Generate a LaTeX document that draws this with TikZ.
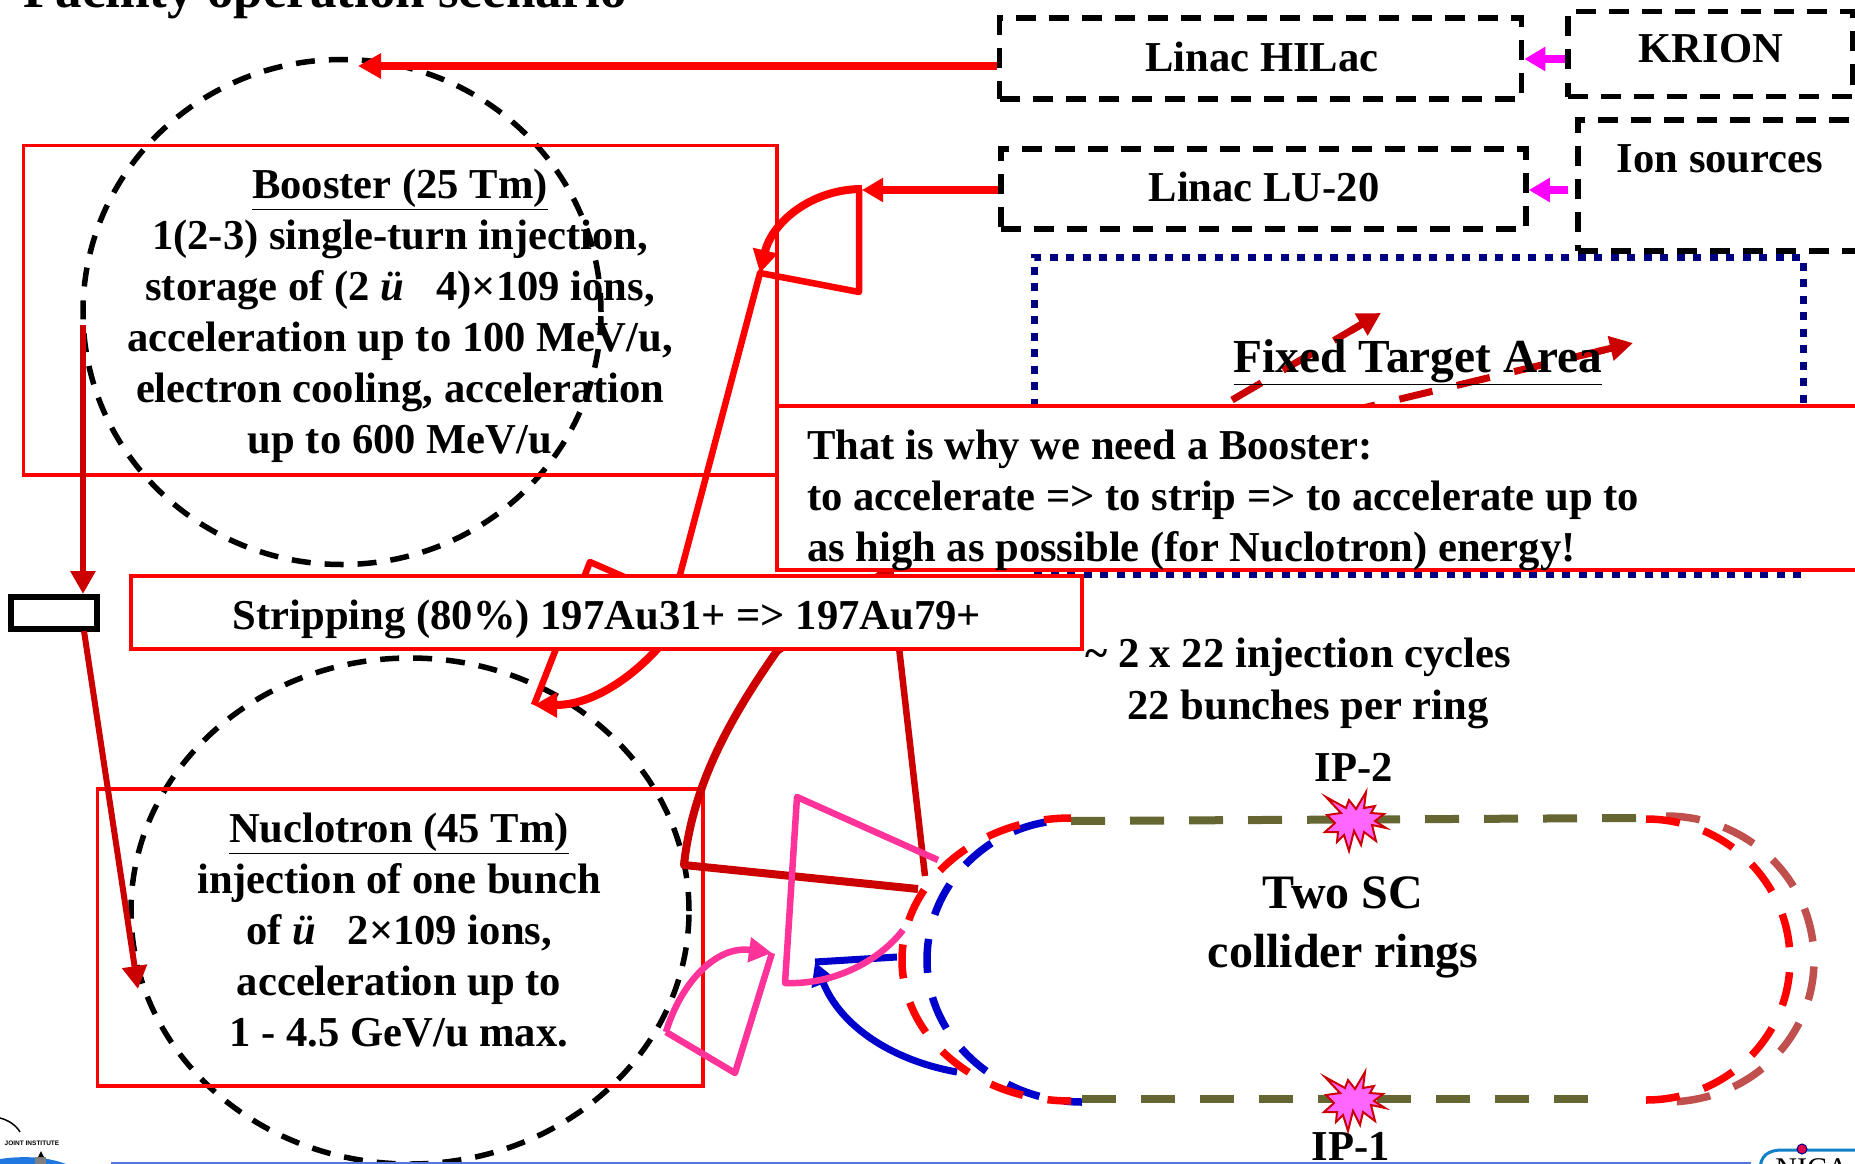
\documentclass[tikz,border=0pt]{standalone}
\usepackage{fontspec}
\setmainfont{Liberation Serif}
\newfontfamily\logofont{Liberation Sans}
\usetikzlibrary{arrows.meta,shapes.geometric,calc}
\definecolor{darkred}{HTML}{CC0000}
\definecolor{pinkc}{HTML}{FF3399}
\definecolor{bluec}{HTML}{0000CC}
\definecolor{olivec}{HTML}{666633}
\definecolor{brownc}{HTML}{C0504D}
\definecolor{navyc}{HTML}{000080}
\definecolor{magentac}{HTML}{FF00FF}
\definecolor{burstfill}{HTML}{FF66FF}
\definecolor{footline}{HTML}{5577DD}
\definecolor{domeblue}{HTML}{1E78E0}
\definecolor{nicablue}{HTML}{1080C8}
\definecolor{nicadot}{HTML}{E0004D}
\tikzset{
  x=1pt,y=-1pt,
  txt/.style={inner sep=0pt,align=center,font=\fontsize{42.6}{51}\selectfont\bfseries},
  redbox/.style={draw=red,line width=3.5pt,inner sep=0pt},
  dashbox/.style={draw=black,line width=5.5pt,dash pattern=on 20pt off 13pt,inner sep=0pt},
  ring/.style={draw=black,ellipse,line width=5.5pt,dash pattern=on 19pt off 14pt,inner sep=0pt},
  dots/.style={draw=navyc,line width=7pt,dash pattern=on 8pt off 8.5pt,inner sep=0pt},
  thickred/.style={draw=red,line width=8pt,line join=round},
  medred/.style={draw=red,line width=6.5pt,line join=round},
  dredline/.style={draw=darkred,line width=6pt,line join=round},
  pinkline/.style={draw=pinkc,line width=6.5pt,line join=round},
  blueline/.style={draw=bluec,line width=7pt,line join=round},
  track/.style={line width=7.5pt,dash pattern=on 34pt off 25pt},
  olivetrack/.style={draw=olivec,line width=8pt,dash pattern=on 34pt off 25pt},
  burst/.style={draw=darkred,fill=burstfill,line width=2pt,line join=miter},
  bighead/.style={-{Triangle[length=23pt,width=24pt]}},
  midhead/.style={-{Triangle[length=21pt,width=23pt]}},
}
\newcommand{\burstpath}{(-28,-23)--(-8,-12)--(-5,-20)--(2,-11)--(12,-28)--(10,-12)--(21,-14)--(17,-7)--(30,-6)--(21,1)--(32,8)--(18,5)--(22,21)--(10,12)--(7,25)--(0,11)--(-5,31)--(-10,15)--(-17,22)--(-16,12)--(-29,12)--(-19,3)--(-27,-5)--(-13,-7)--cycle}
\begin{document}
\begin{tikzpicture}
\clip (0,0) rectangle (1855,1164);
\fill[white] (0,0) rectangle (1855,1164);

% title, cut by the top edge
\node[txt,anchor=base west,font=\fontsize{53}{56}\selectfont\bfseries] (title) at (23,8) {Facility operation scenario};

% fixed target area (behind the note box)
\node[dots,minimum width=769pt,minimum height=317pt] (fixed) at (1418.5,415.5) {};
\coordinate (ft1s) at (1232,400);
\coordinate (ft1e) at (1381,313);
\coordinate (ft2s) at (1342,413);
\coordinate (ft2e) at (1633,343);
\draw[darkred,line width=7pt,dash pattern=on 34pt off 25pt] (ft1s) -- ($(ft1s)!0.88!(ft1e)$);
\draw[darkred,line width=7pt,bighead] ($(ft1s)!0.80!(ft1e)$) -- (ft1e);
\draw[darkred,line width=7pt,dash pattern=on 34pt off 25pt] (ft2s) -- ($(ft2s)!0.90!(ft2e)$);
\draw[darkred,line width=7pt,bighead] ($(ft2s)!0.88!(ft2e)$) -- (ft2e);
\node[txt,font=\fontsize{47.4}{51}\selectfont\bfseries] (fixedtext) at (1418,362) {\underline{Fixed Target Area}};

% source boxes
\node[dashbox,minimum width=522pt,minimum height=81pt] (hilac) at (1260.5,58.5) {};
\node[txt] (hilactext) at (1262,56.5) {Linac HILac};
\node[dashbox,minimum width=525pt,minimum height=80pt] (lu) at (1263.5,189) {};
\node[txt] (lutext) at (1264,186.5) {Linac LU-20};
\node[dashbox,minimum width=285pt,minimum height=85pt] (krion) at (1710.5,54) {};
\node[txt] (kriontext) at (1711,49) {KRION};
\node[dashbox,minimum width=400pt,minimum height=131pt] (ions) at (1778,185.5) {};
\node[txt] (ionstext) at (1720,159) {Ion sources};

% rings
\node[ring,minimum width=518pt,minimum height=505pt] (booster) at (342,312) {};
\node[ring,minimum width=558pt,minimum height=506pt] (nuclotron) at (410,911) {};

% booster and nuclotron boxes
\node[redbox,minimum width=753.5pt,minimum height=329.5pt] (bbox) at (400,310.2) {};
\node[txt] (btext) at (400,315.5) {\underline{Booster (25 Tm)}\\1(2-3) single-turn injection,\\storage of (2 \textit{ü}\ \ \ 4)×109 ions,\\acceleration up to 100 MeV/u,\\electron cooling, acceleration\\up to 600 MeV/u};
\node[redbox,minimum width=605.5pt,minimum height=297pt] (nbox) at (400.3,937.5) {};
\node[txt] (ntext) at (399,930) {\underline{Nuclotron (45 Tm)}\\injection of one bunch\\of \textit{ü}\ \ \ 2×109 ions,\\acceleration up to\\1 - 4.5 GeV/u max.};

% linac to booster transfers
\draw[thickred,bighead] (hilac.west |- 0,66) -- (358,66);
\draw[thickred,midhead] (lu.west |- 0,190) -- (862,190);
\coordinate (c1) at (760,273);
\coordinate (c2) at (859,292);
\draw[thickred,bighead] (862,189) .. controls (812,189) and (772,222) .. (c1);
\draw[medred] (859,189) -- (c2) -- (c1) -- (668,620);
\coordinate (s1) at (534,705);
\draw[medred] (700,610) -- (590,562) -- (s1);
\draw[thickred,bighead] (680,620) .. controls (650,665) and (600,705) .. (s1);

% stripping transfers
\coordinate (apex) at (890,568);
\coordinate (n1) at (684,865);
\draw[dredline,line width=8pt] (apex) -- (777,651) .. controls (725,725) and (692,790) .. (n1) -- (918,889);
\draw[dredline,line width=6.5pt] (apex) -- (925,876);

% vertical arrows on the left
\node[draw=black,line width=6pt,minimum width=86pt,minimum height=32pt,inner sep=0pt] (foil) at (54,613) {};
\coordinate (bleft) at (83,325);
\draw[dredline,bighead] (bleft) -- (foil.north -| bleft);
\coordinate (nleft) at (138,989);
\draw[dredline,bighead] (84,631) -- (nleft);

% note and stripping boxes
\node[redbox,fill=white,minimum width=1200pt,minimum height=164pt] (note) at (1377,488) {};
\node[txt,align=left,anchor=west] (notetext) at (807,500) {That is why we need a Booster:\\to accelerate => to strip => to accelerate up to\\as high as possible (for Nuclotron) energy!};
\node[redbox,fill=white,minimum width=951pt,minimum height=73pt] (strip) at (606.5,612.5) {};
\node[txt] (striptext) at (607,619) {Stripping (80\%) 197Au31+ => 197Au79+};

% texts at the right
\node[txt] (cycles) at (1298,657) {\textasciitilde\ 2 x 22 injection cycles};
\node[txt] (bunches) at (1308,709) {22 bunches per ring};
\node[txt] (ip2) at (1354,767) {IP-2};
\node[txt] (ip1) at (1351,1146) {IP-1};
\node[txt,font=\fontsize{48}{59}\selectfont\bfseries] (two) at (1343,927) {Two SC\\collider rings};

% magenta source arrows
\draw[magentac,line width=8pt,midhead] (krion.west |- 0,59) -- (hilac.east |- 0,59);
\draw[magentac,line width=8pt,midhead] (1568,190) -- (lu.east |- 0,190);

% blue injection
\coordinate (bt) at (815,962);
\draw[blueline] (897,957) -- (bt);
\draw[blueline,-{Triangle[length=23pt,width=24pt]}] (957,1072) .. controls (890,1060) and (840,1025) .. (bt);

% pink injection
\coordinate (p1) at (797,797);
\coordinate (p2) at (785,983);
\draw[pinkline] (938,860) -- (p1) -- (p2) .. controls (835,985) and (880,960) .. (903,930);
\coordinate (p3) at (772,953);
\draw[pinkline] (p3) -- (735,1073) -- (666,1032);
\draw[pinkline,bighead] (666,1032) .. controls (680,985) and (715,945) .. (p3);

% collider rings
\draw[brownc,track] (1666,816) .. controls (1748,816) and (1814,880) .. (1814,960) .. controls (1814,1040) and (1748,1102) .. (1666,1102);
\draw[red,track] (1646,819) .. controls (1725,819) and (1790,882) .. (1790,960) .. controls (1790,1038) and (1725,1100) .. (1646,1100);
\draw[bluec,track,dash phase=34pt] (1071,820) .. controls (991,820) and (927,883) .. (927,960) .. controls (927,1040) and (1000,1102) .. (1082,1102);
\draw[red,track,dash phase=7pt] (1071,818) .. controls (978,818) and (902,882) .. (902,960) .. controls (902,1038) and (978,1101) .. (1071,1101);
\draw[olivetrack] (1071,821) -- (1640,818);
\draw[olivetrack] (1082,1099) -- (1593,1099);
\coordinate (star2) at (1354,820);
\coordinate (star1) at (1353,1100);
\draw[burst,shift={(star2)}] \burstpath;
\draw[burst,shift={(star1)}] \burstpath;

% footer
\draw[draw=footline,line width=1.5pt] (111,1163) -- (1751,1163);
\draw[black,line width=1.5pt] (0,1118) .. controls (8,1120) and (16,1125) .. (20,1132);
\node[inner sep=0pt,font=\logofont\fontsize{6.5}{7}\selectfont\bfseries] (jinr) at (32,1143) {JOINT INSTITUTE};
\fill[domeblue] (0,1164) -- (0,1159) .. controls (20,1156) and (45,1156) .. (66,1164) -- cycle;
\fill[gray] (35,1164) rectangle (46,1157);
\fill[black] (38,1157) -- (41,1151) -- (44,1157) -- cycle;
\draw[nicablue,line width=3pt] (1760,1170) .. controls (1760,1156) and (1768,1150) .. (1782,1150) -- (1860,1150);
\fill[nicadot,draw=navyc,line width=1pt] (1802,1149) circle (5);
\node[txt,anchor=base,font=\fontsize{30}{32}\selectfont] (nica) at (1812,1178) {NICA};
\end{tikzpicture}
\end{document}
